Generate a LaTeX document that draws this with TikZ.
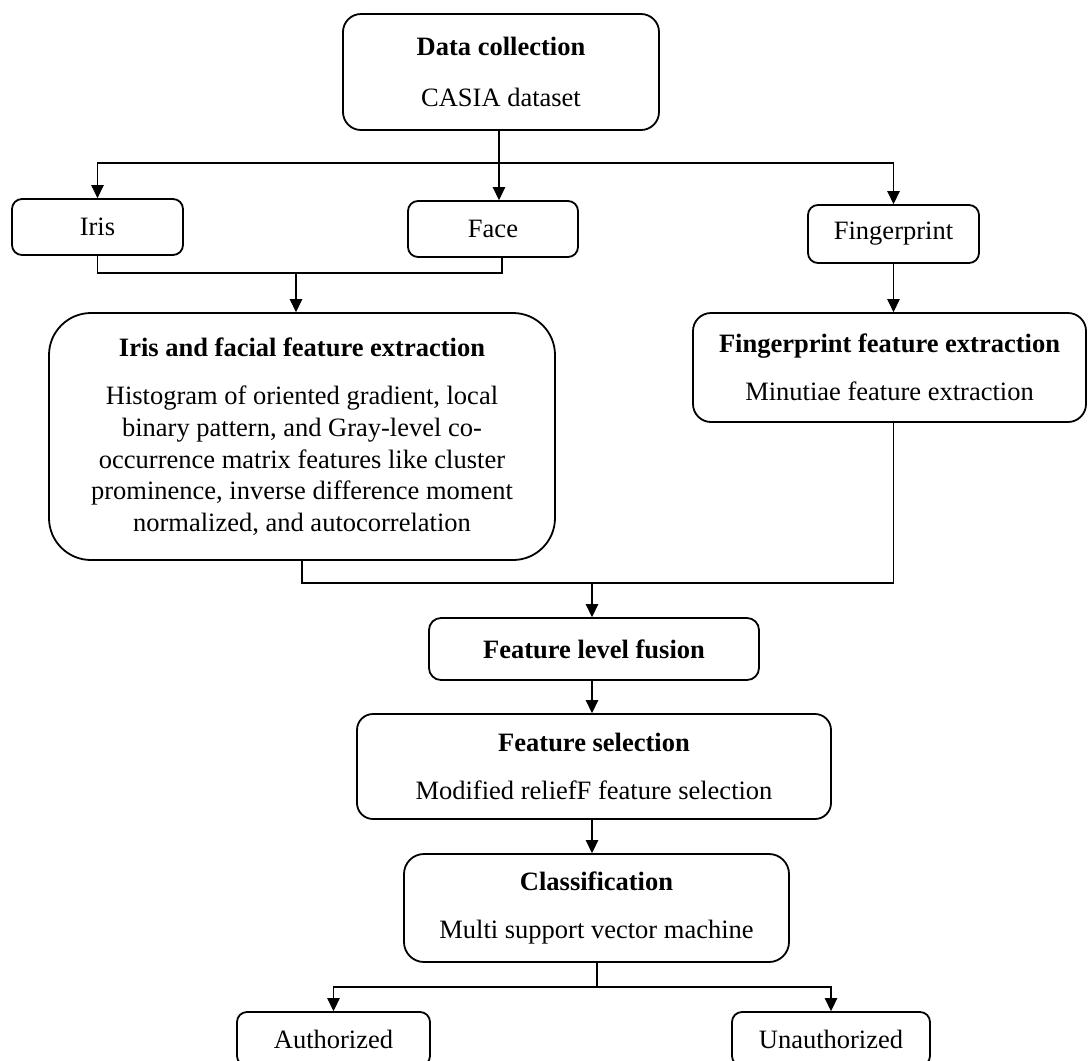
\documentclass[tikz,border=0pt]{standalone}
\usepackage{fontspec}
\setmainfont{Liberation Serif}
\usetikzlibrary{arrows.meta}
\newcommand\myfs{\fontsize{26.5}{31.6}\selectfont}
\begin{document}
\begin{tikzpicture}[x=1pt,y=-1pt,
  box/.style={draw, line width=1.8pt, inner sep=0pt, align=center, font=\myfs},
  conn/.style={draw, line width=1.2pt},
  arr/.style={conn, -{Triangle[length=13pt,width=12.5pt]}}
]
\useasboundingbox (0,0) rectangle (1088,1061);
% boxes
\node[box, rounded corners=18pt, minimum width=316pt, minimum height=116pt] (data) at (501,72)
  {\textbf{Data collection}\\[19pt]CASIA dataset};
\node[box, rounded corners=10pt, minimum width=171pt, minimum height=56pt] (iris) at (97.5,227) {Iris};
\node[box, rounded corners=10pt, minimum width=170pt, minimum height=56pt] (face) at (493,229) {Face};
\node[box, rounded corners=10pt, minimum width=171pt, minimum height=58pt] (finger) at (893.5,234) {Fingerprint};
\node[box, rounded corners=42pt, minimum width=506pt, minimum height=247pt] (ife) at (302,436.5)
  {\textbf{Iris and facial feature extraction}\\[17pt]
   Histogram of oriented gradient, local\\
   binary pattern, and Gray-level co-\\
   occurrence matrix features like cluster\\
   prominence, inverse difference moment\\
   normalized, and autocorrelation};
\node[box, rounded corners=18pt, minimum width=393pt, minimum height=109pt] (ffe) at (889.5,367.5)
  {\textbf{Fingerprint feature extraction}\\[16pt]Minutiae feature extraction};
\node[box, rounded corners=12pt, minimum width=330pt, minimum height=62pt] (fusion) at (594,649)
  {\textbf{Feature level fusion}};
\node[box, rounded corners=16pt, minimum width=474pt, minimum height=105pt] (fs) at (594,766.5)
  {\textbf{Feature selection}\\[16pt]Modified reliefF feature selection};
\node[box, rounded corners=20pt, minimum width=385pt, minimum height=108pt] (class) at (596.5,908)
  {\textbf{Classification}\\[17pt]Multi support vector machine};
\node[box, rounded corners=10pt, minimum width=193pt, minimum height=54pt] (auth) at (333.5,1039) {Authorized};
\node[box, rounded corners=10pt, minimum width=198pt, minimum height=54pt] (unauth) at (831,1039) {Unauthorized};
% connectors
\coordinate (split1) at (499,163);
\coordinate (join1) at (296,273);
\coordinate (join2) at (592,583);
\coordinate (split2) at (597,987);
\draw[conn] (data.south -| split1) -- (split1);
\draw[arr] (split1) -| (iris.north);
\draw[arr] (split1) -| (finger.north);
\draw[arr] (split1) -- (split1 |- face.north);
\draw[conn] (iris.south) |- (join1) -| ([xshift=9pt]face.south);
\draw[arr] (join1) -- (join1 |- ife.north);
\draw[arr] (finger.south) -- (finger.south |- ffe.north);
\draw[conn] (ife.south) |- (join2) -| (finger.south |- ffe.south);
\draw[arr] (join2) -- (join2 |- fusion.north);
\draw[arr] (fusion.south -| join2) -- (join2 |- fs.north);
\draw[arr] (fs.south -| join2) -- (join2 |- class.north);
\draw[conn] (class.south -| split2) -- (split2);
\draw[arr] (split2) -| (auth.north);
\draw[arr] (split2) -| (unauth.north);
\end{tikzpicture}
\end{document}
